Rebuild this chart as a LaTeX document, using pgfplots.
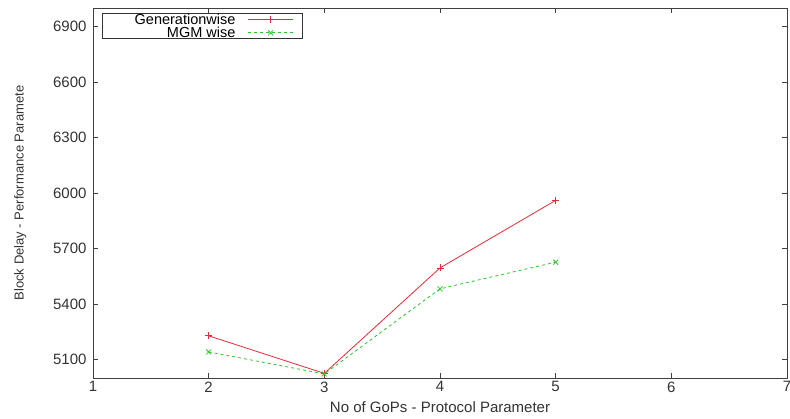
\documentclass[border=0pt]{standalone}
\usepackage{pgfplots}
\pgfplotsset{compat=1.18}
\usepackage{fontspec}
\setmainfont{Liberation Sans}
\usetikzlibrary{calc}
\definecolor{gpred}{RGB}{225,45,55}
\definecolor{gpgreen}{RGB}{40,200,40}

\begin{document}
\begin{tikzpicture}
\begin{axis}[
    scale only axis,
    width=694pt, height=370pt,
    xmin=1, xmax=7, ymin=5000, ymax=7000,
    xtick={1,2,3,4,5,6,7},
    ytick={5100,5400,5700,6000,6300,6600,6900},
    tick align=inside, tick pos=both,
    major tick length=5pt,
    axis line style={black!75, line width=0.9pt},
    tick style={black!75, line width=0.9pt},
    font=\fontsize{15}{17}\selectfont,
    xticklabel style={text=black!80},
    yticklabel style={text=black!80, xshift=-3pt},
    /pgf/number format/assume math mode=true,
    /pgf/number format/1000 sep={},
    xlabel={No of GoPs - Protocol Parameter},
    ylabel={Block Delay - Performance Paramete},
    xlabel style={yshift=-3pt, text=black!80},
    ylabel style={font=\fontsize{13}{15}\selectfont, yshift=20pt, text=black!80},
    legend style={at={(0.013,0.986)}, anchor=north west, draw=black!80, line width=0.8pt,
        font=\fontsize{14.5}{12}\selectfont, inner ysep=0.5pt, inner xsep=9pt,
        nodes={inner sep=0pt, text height=10pt, text depth=0.5pt},
        row sep=3pt, /tikz/column sep=12pt},
    legend cell align=right,
    legend plot pos=right,
    legend image code/.code={
        \draw[mark repeat=2,mark phase=2] plot coordinates {(0cm,0cm) (0.8cm,0cm) (1.6cm,0cm)};
    },
]
\addplot[gpred, line width=0.8pt, mark=+, mark size=3.5pt] coordinates {
    (2,5228) (3,5025) (4,5595) (5,5960)
};
\addlegendentry{\makebox[124pt][r]{Generationwise}}
\addplot[gpgreen, line width=0.8pt, dashed, mark=x, mark size=3.5pt, mark options={solid}] coordinates {
    (2,5141) (3,5022) (4,5482) (5,5626)
};
\addlegendentry{MGM wise}
\end{axis}
\pgfresetboundingbox
\path ($(current axis.south west)+(-93pt,-41pt)$) rectangle ($(current axis.north east)+(3pt,8pt)$);
\end{tikzpicture}
\end{document}
